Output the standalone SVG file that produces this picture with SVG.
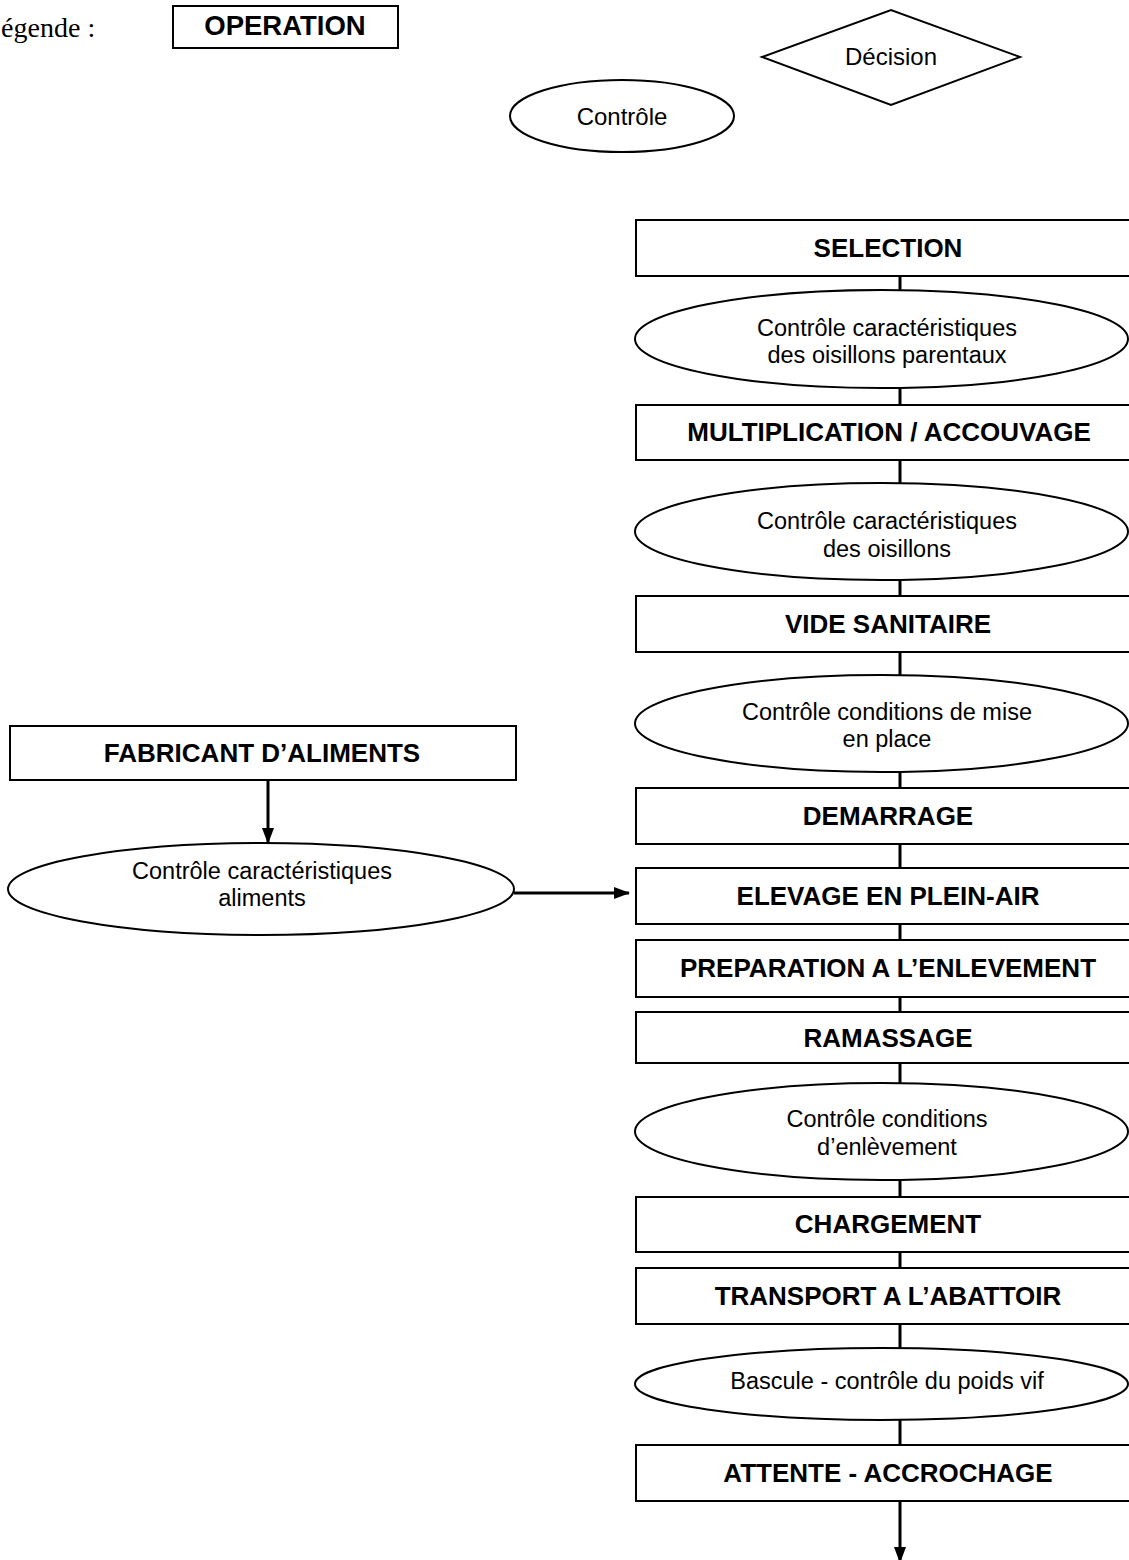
<svg xmlns="http://www.w3.org/2000/svg" width="1129" height="1560" viewBox="0 0 1129 1560">
<defs>
<style>
.box{fill:#fff;stroke:#000;stroke-width:2}
.ell{fill:#fff;stroke:#000;stroke-width:2}
.b{font-family:"Liberation Sans",Arial,sans-serif;font-weight:bold;font-size:26px;text-anchor:middle;fill:#000}
.r{font-family:"Liberation Sans",Arial,sans-serif;font-size:23.5px;text-anchor:middle;fill:#000}
.lg{font-family:"Liberation Sans",Arial,sans-serif;font-size:24px;text-anchor:middle;fill:#000}
.con{stroke:#000;stroke-width:3;fill:none}
</style>
<marker id="ah" markerWidth="16" markerHeight="12" refX="15" refY="6" orient="auto" markerUnits="userSpaceOnUse">
<path d="M0,0 L16,6 L0,12 Z" fill="#000"/>
</marker>
</defs>
<rect width="1129" height="1560" fill="#fff"/>

<g id="legend">
<text x="-16" y="37" font-family="Liberation Serif,Times New Roman,serif" font-size="28" fill="#000">Légende :</text>
<g id="leg-operation"><rect class="box" x="173" y="6" width="225" height="42"/><text class="b" x="285" y="35" style="font-size:27.5px">OPERATION</text></g>
<g id="leg-decision"><polygon class="box" points="762,57 891,10 1020,57 891,105"/><text class="lg" x="891" y="65">Décision</text></g>
<g id="leg-controle"><ellipse class="ell" cx="622" cy="116" rx="112" ry="36"/><text class="lg" x="622" y="125">Contrôle</text></g>
</g>

<g id="connectors">
<line class="con" x1="900" y1="276" x2="900" y2="290"/>
<line class="con" x1="900" y1="388" x2="900" y2="405"/>
<line class="con" x1="900" y1="460" x2="900" y2="483"/>
<line class="con" x1="900" y1="580" x2="900" y2="596"/>
<line class="con" x1="900" y1="652" x2="900" y2="675"/>
<line class="con" x1="900" y1="772" x2="900" y2="788"/>
<line class="con" x1="900" y1="844" x2="900" y2="868"/>
<line class="con" x1="900" y1="924" x2="900" y2="940"/>
<line class="con" x1="900" y1="997" x2="900" y2="1012"/>
<line class="con" x1="900" y1="1063" x2="900" y2="1083"/>
<line class="con" x1="900" y1="1180" x2="900" y2="1197"/>
<line class="con" x1="900" y1="1252" x2="900" y2="1268"/>
<line class="con" x1="900" y1="1324" x2="900" y2="1348"/>
<line class="con" x1="900" y1="1420" x2="900" y2="1445"/>
<line class="con" x1="900" y1="1501" x2="900" y2="1562" marker-end="url(#ah)"/>
<line class="con" x1="268" y1="780" x2="268" y2="843" marker-end="url(#ah)"/>
<line class="con" x1="514" y1="893" x2="629" y2="893" marker-end="url(#ah)"/>
</g>

<g id="n-selection"><rect class="box" x="636" y="220" width="530" height="56"/><text class="b" x="888" y="257">SELECTION</text></g>
<g id="n-ctrl-parentaux"><ellipse class="ell" cx="881.5" cy="339" rx="246.5" ry="49"/><text class="r" x="887" y="336">Contrôle caractéristiques</text><text class="r" x="887" y="363">des oisillons parentaux</text></g>
<g id="n-multiplication"><rect class="box" x="636" y="405" width="530" height="55"/><text class="b" x="889" y="441">MULTIPLICATION / ACCOUVAGE</text></g>
<g id="n-ctrl-oisillons"><ellipse class="ell" cx="881.5" cy="531.5" rx="246.5" ry="48.5"/><text class="r" x="887" y="529">Contrôle caractéristiques</text><text class="r" x="887" y="557">des oisillons</text></g>
<g id="n-vide"><rect class="box" x="636" y="596" width="530" height="56"/><text class="b" x="888" y="633">VIDE SANITAIRE</text></g>
<g id="n-ctrl-mise"><ellipse class="ell" cx="881.5" cy="723.5" rx="246.5" ry="48.5"/><text class="r" x="887" y="720">Contrôle conditions de mise</text><text class="r" x="887" y="747">en place</text></g>
<g id="n-demarrage"><rect class="box" x="636" y="788" width="530" height="56"/><text class="b" x="888" y="825">DEMARRAGE</text></g>
<g id="n-elevage"><rect class="box" x="636" y="868" width="530" height="56"/><text class="b" x="888" y="905">ELEVAGE EN PLEIN-AIR</text></g>
<g id="n-preparation"><rect class="box" x="636" y="940" width="530" height="57"/><text class="b" x="888" y="977">PREPARATION A L’ENLEVEMENT</text></g>
<g id="n-ramassage"><rect class="box" x="636" y="1012" width="530" height="51"/><text class="b" x="888" y="1047">RAMASSAGE</text></g>
<g id="n-ctrl-enlevement"><ellipse class="ell" cx="881.5" cy="1131.5" rx="246.5" ry="48.5"/><text class="r" x="887" y="1127">Contrôle conditions</text><text class="r" x="887" y="1155">d’enlèvement</text></g>
<g id="n-chargement"><rect class="box" x="636" y="1197" width="530" height="55"/><text class="b" x="888" y="1233">CHARGEMENT</text></g>
<g id="n-transport"><rect class="box" x="636" y="1268" width="530" height="56"/><text class="b" x="888" y="1305">TRANSPORT A L’ABATTOIR</text></g>
<g id="n-bascule"><ellipse class="ell" cx="881.5" cy="1384" rx="246.5" ry="36"/><text class="r" x="887" y="1389">Bascule - contrôle du poids vif</text></g>
<g id="n-attente"><rect class="box" x="636" y="1445" width="530" height="56"/><text class="b" x="888" y="1482">ATTENTE - ACCROCHAGE</text></g>

<g id="n-fabricant"><rect class="box" x="10" y="726" width="506" height="54"/><text class="b" x="262" y="762">FABRICANT D’ALIMENTS</text></g>
<g id="n-ctrl-aliments"><ellipse class="ell" cx="261" cy="889" rx="253" ry="46"/><text class="r" x="262" y="879">Contrôle caractéristiques</text><text class="r" x="262" y="906">aliments</text></g>
</svg>
